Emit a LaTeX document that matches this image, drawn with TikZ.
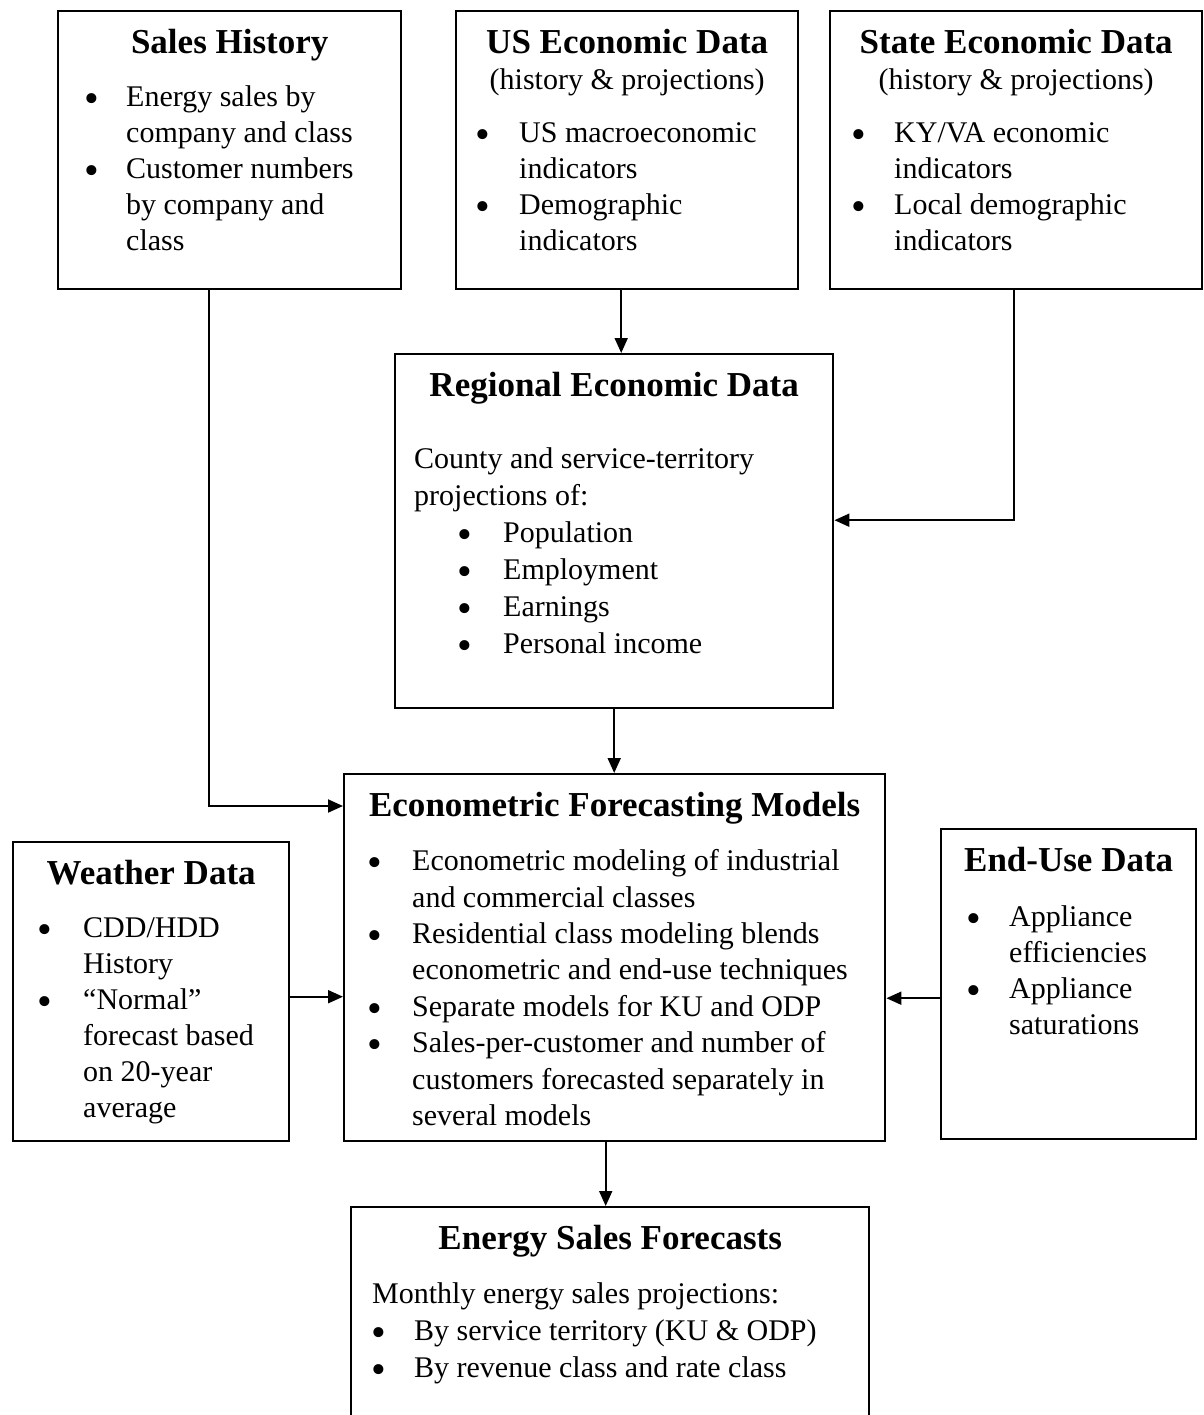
\documentclass[tikz,border=0pt]{standalone}
\usepackage{fontspec}
\usepackage{graphicx}
\setmainfont{Liberation Serif}
\usetikzlibrary{arrows.meta}

\newlength{\bulind}
\newlength{\txtind}
\newcommand{\boxtitle}[1]{{\centering\fontsize{35}{42}\selectfont\bfseries\rule{0pt}{42pt}#1\par}}
\newcommand{\boxsub}[1]{{\centering #1\par}}
\newcommand{\bdot}{\smash{\raisebox{-6pt}{\scalebox{1.4}{\textbullet}}}}
\newcommand{\bitem}[1]{\par\hangindent=\txtind\hangafter=1\noindent\hbox to \txtind{\hskip\bulind\bdot\hfil}{\let\\\newline #1}}
\newcommand{\panel}[5]{\parbox[c][#2pt][t]{#1pt}{\raggedright\setlength{\bulind}{#3pt}\setlength{\txtind}{#4pt}#5}}

\begin{document}
\begin{tikzpicture}[x=1pt, y=-1pt,
    box/.style={draw, line width=2.4pt, inner sep=0pt, anchor=north west, font=\fontsize{30}{36}\selectfont},
    arr/.style={line width=1.9pt, -{Triangle[length=15pt,width=13pt]}}]
    \useasboundingbox (0,0) rectangle (1203,1415);

    \node[box] (sales) at (57,10) {\panel{343}{278}{26}{68}{%
        \boxtitle{Sales History}\vspace{17pt}%
        \bitem{Energy sales by\\company and class}%
        \bitem{Customer numbers\\by company and\\class}}};
    \node[box] (us) at (455,10) {\panel{342}{278}{19}{63}{%
        \boxtitle{US Economic Data}%
        \boxsub{(history \& projections)}\vspace{17pt}%
        \bitem{US macroeconomic\\indicators}%
        \bitem{Demographic\\indicators}}};
    \node[box] (state) at (829,10) {\panel{372}{278}{21}{64}{%
        \boxtitle{State Economic Data}%
        \boxsub{(history \& projections)}\vspace{17pt}%
        \bitem{KY/VA economic\\indicators}%
        \bitem{Local demographic\\indicators}}};
    \node[box] (regional) at (394,353) {\panel{438}{354}{62}{108}{%
        \baselineskip=37pt
        \boxtitle{Regional Economic Data}\vspace{35pt}%
        \hspace*{19pt}County and service-territory\\\hspace*{19pt}projections of:%
        \bitem{Population}%
        \bitem{Employment}%
        \bitem{Earnings}%
        \bitem{Personal income}}};
    \node[box] (econ) at (343,773) {\panel{541}{367}{23}{68}{%
        \baselineskip=36.4pt
        \boxtitle{Econometric Forecasting Models}\vspace{18pt}%
        \bitem{Econometric modeling of industrial\\and commercial classes}%
        \bitem{Residential class modeling blends\\econometric and end-use techniques}%
        \bitem{Separate models for KU and ODP}%
        \bitem{Sales-per-customer and number of\\customers forecasted separately in\\several models}}};
    \node[box] (weather) at (12,841) {\panel{276}{299}{24}{70}{%
        \boxtitle{Weather Data}\vspace{17pt}%
        \bitem{CDD/HDD\\History}%
        \bitem{``Normal''\\forecast based\\on 20-year\\average}}};
    \node[box] (enduse) at (940,828) {\panel{255}{310}{25}{68}{%
        \boxtitle{End-Use Data}\vspace{19pt}%
        \bitem{Appliance\\efficiencies}%
        \bitem{Appliance\\saturations}}};
    \node[box] (sales fc) at (350,1206) {\panel{518}{240}{20}{63}{%
        \baselineskip=37pt
        \boxtitle{Energy Sales Forecasts}\vspace{17pt}%
        \hspace*{21pt}Monthly energy sales projections:%
        \bitem{By service territory (KU \& ODP)}%
        \bitem{By revenue class and rate class}}};

    \draw[arr] ([xshift=-6pt]us.south) -- ([xshift=-6pt]us.south |- regional.north);
    \draw[arr] ([xshift=-2pt]state.south) |- ([yshift=11pt]regional.east);
    \draw[arr] ([xshift=-21pt]sales.south) |- ([yshift=-33pt]econ.north west);
    \draw[arr] (regional.south) -- (regional.south |- econ.north);
    \draw[arr] ([yshift=-5pt]weather.east) -- ([yshift=-5pt]weather.east -| econ.west);
    \draw[arr] ([yshift=-14pt]enduse.west) -- ([yshift=-14pt]enduse.west -| econ.east);
    \draw[arr] ([xshift=-9pt]econ.south) -- ([xshift=-9pt]econ.south |- sales fc.north);
\end{tikzpicture}
\end{document}
